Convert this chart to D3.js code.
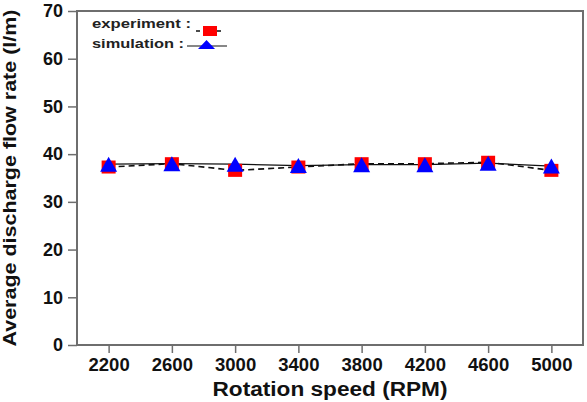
<!DOCTYPE html>
<html>
<head>
<meta charset="utf-8">
<script src="https://cdn.jsdelivr.net/npm/d3@7"></script>
<style>
  body { margin: 0; background: #fff; }
  svg text { font-family: "Liberation Sans", Arial, sans-serif; font-weight: bold; }
</style>
</head>
<body>
<div id="chart"></div>
<script>
(function () {

  // Data
  const speeds = ["2200", "2600", "3000", "3400", "3800", "4200", "4600", "5000"]
  const experiment = [37.3, 38.0, 36.6, 37.3, 38.0, 38.0, 38.3, 36.6]
  const simulation = [37.9, 38.0, 37.9, 37.6, 37.8, 37.8, 38.1, 37.5]
  const yTicks = [0, 10, 20, 30, 40, 50, 60, 70]

  // Margin convention
  const margin = { top: 11, right: 4, bottom: 57, left: 77 }
  const width = 587 - margin.left - margin.right
  const height = 402 - margin.top - margin.bottom

  const svg = d3.select("#chart").append("svg")
      .attr("width", width + margin.left + margin.right)
      .attr("height", height + margin.top + margin.bottom)
      .append("g")
      .attr("transform", "translate(" + margin.left + "," + margin.top + ")")

  const xPositionScale = d3.scalePoint()
    .domain(speeds)
    .range([0, width])
    .padding(0.5)

  const yPositionScale = d3.scaleLinear()
    .domain([0, 70])
    .range([height, 0])

  const frameColor = "#6e6e6e"

  // Frame
  svg.append("rect")
    .attr("width", width)
    .attr("height", height)
    .attr("fill", "none")
    .attr("stroke", frameColor)
    .attr("stroke-width", 2)

  // Axes
  const yAxis = d3.axisLeft(yPositionScale).tickValues(yTicks).tickSize(9).tickPadding(5)
  svg.append("g").attr("class", "y-axis").call(yAxis)

  const xAxis = d3.axisBottom(xPositionScale).tickSize(8).tickPadding(5)
  svg.append("g").attr("class", "x-axis")
    .attr("transform", "translate(0," + height + ")")
    .call(xAxis)

  svg.selectAll(".domain").remove()
  svg.selectAll(".tick line").attr("stroke", frameColor).attr("stroke-width", 1.5)
  svg.selectAll(".y-axis .tick text")
    .style("font-size", "18px")
  svg.selectAll(".x-axis .tick text")
    .style("font-size", "18.5px")
  svg.selectAll(".tick text")
    .attr("fill", "#111")
    .style("font-family", "'Liberation Sans', Arial, sans-serif")
    .style("font-weight", "bold")

  // Axis titles
  svg.append("text")
    .attr("x", width / 2)
    .attr("y", height + 51)
    .attr("text-anchor", "middle")
    .attr("textLength", 235)
    .attr("lengthAdjust", "spacingAndGlyphs")
    .style("font-size", "20px")
    .attr("fill", "#111")
    .text("Rotation speed (RPM)")

  svg.append("text")
    .attr("transform", "translate(" + (-61) + "," + (height / 2) + ") rotate(-90)")
    .attr("text-anchor", "middle")
    .attr("textLength", 337)
    .attr("lengthAdjust", "spacingAndGlyphs")
    .style("font-size", "18px")
    .attr("fill", "#111")
    .text("Average discharge flow rate (l/m)")

  // Lines
  const line = d3.line()
    .x((d, i) => xPositionScale(speeds[i]))
    .y(d => yPositionScale(d))

  svg.append("path")
    .datum(simulation)
    .attr("d", line)
    .attr("fill", "none")
    .attr("stroke", "#111")
    .attr("stroke-width", 1.2)

  svg.append("path")
    .datum(experiment)
    .attr("d", line)
    .attr("fill", "none")
    .attr("stroke", "#111")
    .attr("stroke-width", 1.6)
    .attr("stroke-dasharray", "6,4")

  // Markers (squares and triangles are a bit wider than tall, as in the picture)
  const trianglePath = (w, h) => "M0," + (-h / 2) + "L" + (w / 2) + "," + (h / 2) + "L" + (-w / 2) + "," + (h / 2) + "Z"

  svg.selectAll(".exp")
    .data(experiment)
    .join("rect")
    .attr("class", "exp")
    .attr("x", (d, i) => xPositionScale(speeds[i]) - 7)
    .attr("y", d => yPositionScale(d) - 6.5)
    .attr("width", 14)
    .attr("height", 13)
    .attr("fill", "#ff0000")

  svg.selectAll(".sim")
    .data(simulation)
    .join("path")
    .attr("class", "sim")
    .attr("d", trianglePath(17, 15))
    .attr("fill", "#0000ff")
    .attr("transform", (d, i) => "translate(" + xPositionScale(speeds[i]) + "," + yPositionScale(d) + ")")

  // Legend
  const legend = svg.append("g")

  legend.append("text").attr("x", 15).attr("y", 17)
    .attr("textLength", 99).attr("lengthAdjust", "spacingAndGlyphs")
    .style("font-size", "13px").attr("fill", "#222").text("experiment :")
  legend.append("text").attr("x", 15).attr("y", 37)
    .attr("textLength", 92).attr("lengthAdjust", "spacingAndGlyphs")
    .style("font-size", "13px").attr("fill", "#222").text("simulation  :")

  legend.append("line")
    .attr("x1", 119).attr("x2", 146).attr("y1", 20).attr("y2", 20)
    .attr("stroke", "#111").attr("stroke-width", 1.3).attr("stroke-dasharray", "4,3")
  legend.append("rect")
    .attr("x", 126).attr("y", 15).attr("width", 14).attr("height", 10)
    .attr("fill", "#ff0000")

  legend.append("line")
    .attr("x1", 110).attr("x2", 150).attr("y1", 35).attr("y2", 35)
    .attr("stroke", "#111").attr("stroke-width", 1.2)
  legend.append("path")
    .attr("d", trianglePath(17, 9))
    .attr("fill", "#0000ff")
    .attr("transform", "translate(129.5,33.5)")

})();
</script>
</body>
</html>
